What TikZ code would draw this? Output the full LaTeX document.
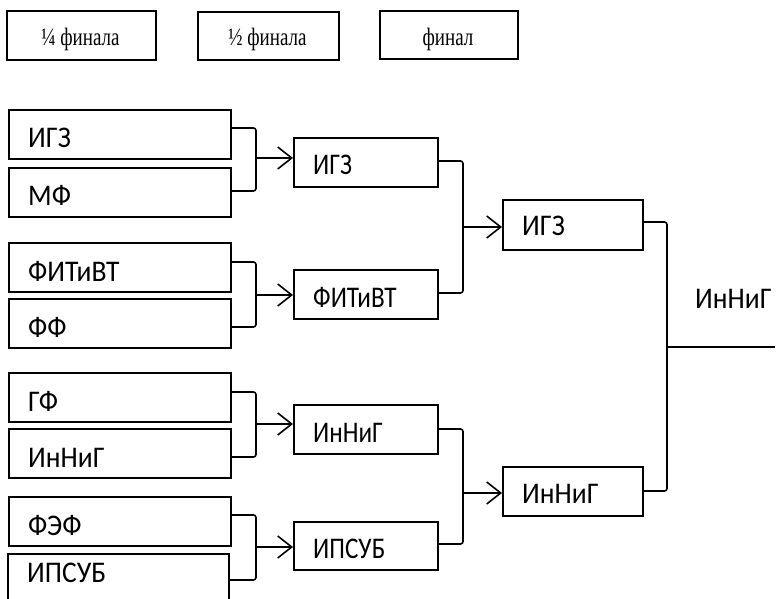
\documentclass[tikz,border=0pt]{standalone}
\usepackage{fontspec}
\setmainfont{Liberation Serif}
\newfontfamily\headf[FakeStretch=0.76]{Liberation Serif}
\newfontfamily\bodyf[FakeStretch=0.92]{Carlito}
\newfontfamily\bodysm[FakeStretch=0.84]{Carlito}
\usetikzlibrary{arrows.meta,calc}
\tikzset{
  tbx/.style={draw, line width=1.8pt, inner sep=0pt},
  lbl/.style={inner sep=0pt, font=\bodyf\fontsize{30}{30}\selectfont},
  lblsm/.style={inner sep=0pt, font=\bodysm\fontsize{30}{30}\selectfont},
  hdr/.style={inner sep=0pt, font=\headf\fontsize{25}{25}\selectfont},
  conn/.style={line width=1.6pt, rounded corners=2.5pt},
  arr/.style={-{Straight Barb[length=14pt,width=22pt,line width=1.6pt]}},
}
% name, x, y(top), w, h, text, baseline from top, label style
\newcommand{\tbox}[8]{%
  \node[tbx, minimum width=#4pt, minimum height=#5pt, anchor=north west] (#1) at (#2,#3) {};
  \node[#8, anchor=base west] (#1t) at (#2+20,#3+#7) {#6};
}
% P, Q, xv, yP, yQ, ya, target, id
\newcommand{\brk}[8]{%
  \coordinate (#8a) at (#3,#4);
  \coordinate (#8b) at (#3,#5);
  \coordinate (#8m) at (#3,#6);
  \draw[conn] (#1.east |- #8a) -- (#8a) -- (#8b) -- (#2.east |- #8b);
  \draw[line width=1.6pt, arr] (#8m) -- (#7.west |- #8m);
}
\begin{document}
\begin{tikzpicture}[x=1pt,y=-1pt]
\useasboundingbox (0,0) rectangle (777,599);
% headers
\node[tbx, minimum width=149pt, minimum height=49pt, anchor=north west] (h1) at (6,10) {};
\node[hdr, anchor=base] (h1t) at (80.5,46) {¼ финала};
\node[tbx, minimum width=141pt, minimum height=48pt, anchor=north west] (h2) at (197,11) {};
\node[hdr, anchor=base] (h2t) at (267.5,46) {½ финала};
\node[tbx, minimum width=138pt, minimum height=48pt, anchor=north west] (h3) at (379,10) {};
\node[hdr, anchor=base] (h3t) at (448,46) {финал};
% quarter-final boxes
\tbox{A1}{8}{109}{222}{49}{ИГЗ}{39}{lbl}
\tbox{A2}{8}{167}{222}{49}{МФ}{39}{lbl}
\tbox{A3}{8}{242}{222}{49}{ФИТиВТ}{39}{lbl}
\tbox{A4}{8}{298}{222}{49}{ФФ}{39}{lbl}
\tbox{A5}{8}{372}{222}{49}{ГФ}{39}{lbl}
\tbox{A6}{8}{428}{222}{49}{ИнНиГ}{39}{lbl}
\tbox{A7}{8}{496}{222}{49}{ФЭФ}{39}{lbl}
\tbox{A8}{7}{553}{221}{52}{ИПСУБ}{29}{lbl}
% semi boxes
\tbox{S1}{293}{137}{144}{49}{ИГЗ}{38}{lblsm}
\tbox{S2}{293}{269}{144}{49}{ФИТиВТ}{38}{lblsm}
\tbox{S3}{293}{404}{144}{49}{ИнНиГ}{38}{lblsm}
\tbox{S4}{293}{521}{144}{48}{ИПСУБ}{37}{lblsm}
% final boxes
\tbox{F1}{502}{199}{140}{50}{ИГЗ}{37}{lbl}
\tbox{F2}{502}{466}{140}{49}{ИнНиГ}{37}{lbl}
% brackets
\brk{A1}{A2}{256}{128}{191}{158}{S1}{qa}
\brk{A3}{A4}{256}{262}{327}{295}{S2}{qb}
\brk{A5}{A6}{256}{392}{457}{424}{S3}{qc}
\brk{A7}{A8}{256}{515}{580}{547}{S4}{qd}
\brk{S1}{S2}{463}{161}{293}{227}{F1}{sa}
\brk{S3}{S4}{463}{429}{544}{493}{F2}{sb}
% final bracket
\coordinate (fa) at (667,222);
\coordinate (fb) at (667,491);
\coordinate (fm) at (667,347);
\coordinate (fe) at (775,347);
\draw[conn] (F1.east |- fa) -- (fa) -- (fb) -- (F2.east |- fb);
\draw[line width=1.6pt] (fm) -- (fe);
\node[lbl, anchor=base west] (win) at (695,308) {ИнНиГ};
\end{tikzpicture}
\end{document}
